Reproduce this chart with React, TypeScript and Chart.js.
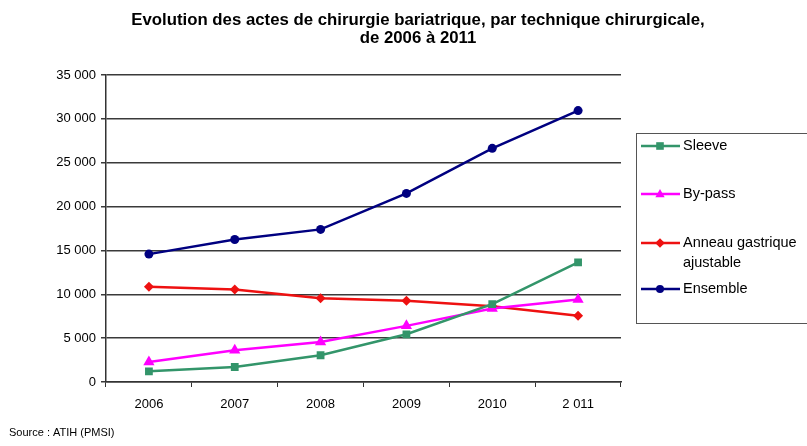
import React, { useEffect, useRef } from "react";
import { Chart, registerables } from "chart.js";

Chart.register(...registerables);

const categories = ["2006", "2007", "2008", "2009", "2010", "2 011"];
const sleeve = [1220, 1710, 3050, 5440, 8870, 13630];
const bypass = [2280, 3620, 4570, 6400, 8380, 9400];
const anneau = [10850, 10550, 9550, 9250, 8640, 7540];
const ensemble = [14580, 16250, 17400, 21500, 26640, 30940];
const yTicks = [0, 5000, 10000, 15000, 20000, 25000, 30000, 35000];

const seriesNames = ["Sleeve", "By-pass", "Anneau gastrique ajustable", "Ensemble"];
const legendLines = [["Sleeve"], ["By-pass"], ["Anneau gastrique", "ajustable"], ["Ensemble"]];
const titleLines = [
  "Evolution des actes de chirurgie bariatrique, par technique chirurgicale,",
  "de 2006 à 2011",
];
const sourceText = "Source : ATIH (PMSI)";

const colors = ["#33956A", "#FF00FF", "#EE1111", "#000080"];
const styles = ["rect", "triangle", "rectRot", "circle"];
const radii = [5.5, 6.5, 5, 4.5];

function fmt(v: number) {
  return String(v).replace(/\B(?=(\d{3})+(?!\d))/g, " ");
}

function drawMarker(ctx: CanvasRenderingContext2D, style: string, x: number, y: number, r: number) {
  ctx.beginPath();
  if (style === "rect") {
    ctx.rect(x - r, y - r, 2 * r, 2 * r);
  } else if (style === "triangle") {
    ctx.moveTo(x, y - r * 1.2);
    ctx.lineTo(x + r * 1.1, y + r * 0.8);
    ctx.lineTo(x - r * 1.1, y + r * 0.8);
    ctx.closePath();
  } else if (style === "rectRot") {
    ctx.moveTo(x, y - r * 1.2);
    ctx.lineTo(x + r * 1.2, y);
    ctx.lineTo(x, y + r * 1.2);
    ctx.lineTo(x - r * 1.2, y);
    ctx.closePath();
  } else {
    ctx.arc(x, y, r, 0, Math.PI * 2);
  }
  ctx.fill();
}

const decorPlugin = {
  id: "decor",
  afterDraw(chart: any) {
    const ctx = chart.ctx as CanvasRenderingContext2D;
    ctx.save();
    // title
    ctx.fillStyle = "#000";
    ctx.font = "bold 16.8px 'Liberation Sans', Arial, sans-serif";
    ctx.textAlign = "center";
    ctx.textBaseline = "middle";
    ctx.fillText(titleLines[0], 418, 20.5);
    ctx.fillText(titleLines[1], 418, 38);
    // source
    ctx.font = "11px 'Liberation Sans', Arial, sans-serif";
    ctx.textAlign = "left";
    ctx.fillText(sourceText, 9, 433);
    // legend box
    ctx.strokeStyle = "#555";
    ctx.lineWidth = 1;
    ctx.strokeRect(636.5, 133.5, 200, 190);
    const ys = [146, 194, 243, 289];
    ctx.font = "14.5px 'Liberation Sans', Arial, sans-serif";
    chart.data.datasets.forEach((ds: any, i: number) => {
      const y = ys[i];
      ctx.strokeStyle = ds.borderColor;
      ctx.fillStyle = ds.borderColor;
      ctx.lineWidth = 2.5;
      ctx.beginPath();
      ctx.moveTo(641, y);
      ctx.lineTo(680, y);
      ctx.stroke();
      drawMarker(ctx, styles[i], 660, y, [3.8, 4.2, 4, 4][i]);
      ctx.fillStyle = "#000";
      legendLines[i].forEach((t, k) => ctx.fillText(t, 683, y + k * 19.5));
    });
    ctx.restore();
  },
};

export default function App() {
  const ref = useRef<HTMLCanvasElement>(null);
  useEffect(() => {
    const chart = new Chart(ref.current!, {
      type: "line",
      data: {
        labels: categories,
        datasets: [sleeve, bypass, anneau, ensemble].map((d, i) => ({
          label: seriesNames[i],
          data: d,
          borderColor: colors[i],
          backgroundColor: colors[i],
          borderWidth: 2.5,
          pointStyle: styles[i] as any,
          pointRadius: radii[i],
          pointBorderWidth: 0,
          tension: 0,
        })),
      },
      plugins: [decorPlugin],
      options: {
        animation: false,
        responsive: false,
        layout: { padding: { top: 75, right: 186, bottom: 34, left: 0 } },
        plugins: { legend: { display: false }, tooltip: { enabled: false }, title: { display: false } },
        scales: {
          x: {
            offset: true,
            grid: { offset: true, drawOnChartArea: false, drawTicks: true, tickLength: 5, color: "#333" },
            border: { color: "#333", width: 1.5 },
            ticks: { color: "#000", font: { size: 13, family: "'Liberation Sans', Arial, sans-serif" }, padding: 10 },
            afterFit: (s: any) => { s.height = 30; },
          },
          y: {
            min: 0,
            max: 35000,
            afterBuildTicks: (s: any) => { s.ticks = yTicks.map((v) => ({ value: v })); },
            grid: { color: "#3a3a3a", lineWidth: 1.5, tickLength: 5 },
            border: { color: "#333", width: 1.5 },
            ticks: {
              color: "#000",
              font: { size: 13, family: "'Liberation Sans', Arial, sans-serif" },
              padding: 5,
              callback: (v: any) => fmt(Number(v)),
            },
            afterFit: (s: any) => { s.width = 106; },
          },
        },
      },
    });
    return () => chart.destroy();
  }, []);
  return (
    <div style={{ position: "fixed", left: 0, top: 0, width: 807, height: 446, background: "#fff" }}>
      <canvas ref={ref} width={807} height={446} style={{ display: "block" }} />
    </div>
  );
}
